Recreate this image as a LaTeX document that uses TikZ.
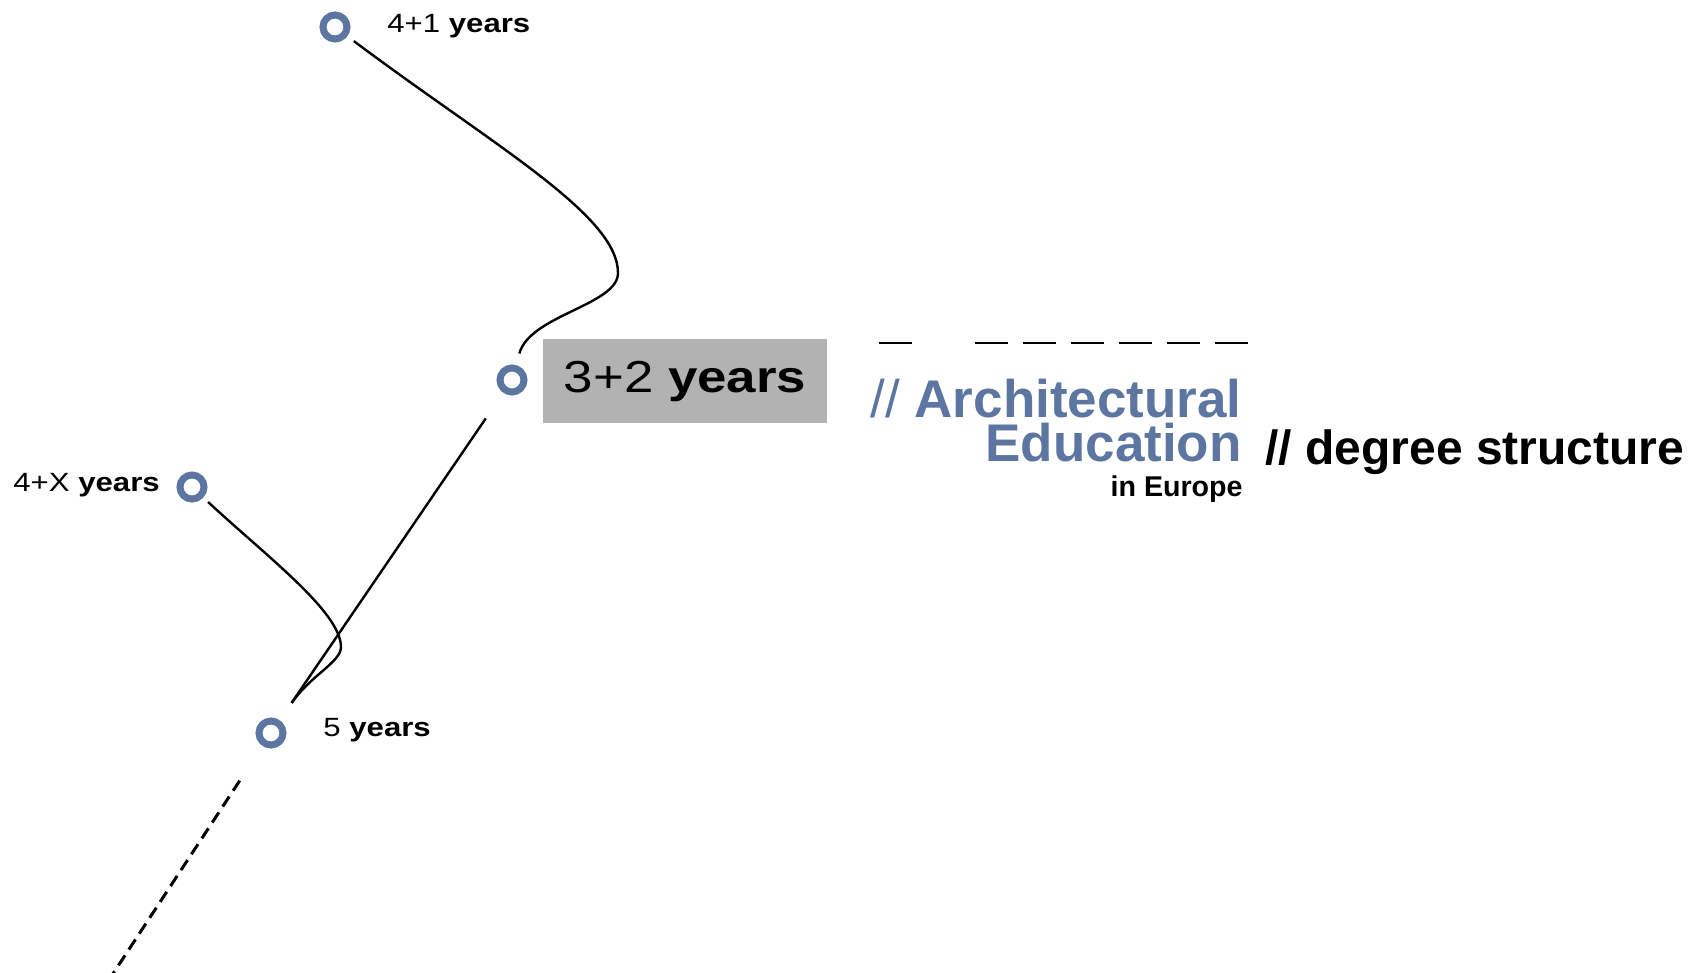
\documentclass[tikz,border=0pt]{standalone}
\usepackage{fontspec}
\setmainfont{Liberation Sans}
\newfontfamily\widesans[FakeStretch=1.18]{Liberation Sans}
\definecolor{ringblue}{RGB}{92,118,161}
\definecolor{boxgray}{RGB}{178,178,178}

\begin{document}
\begin{tikzpicture}[
  x=0.5pt, y=-0.5pt,
  ring/.style = {circle, draw=ringblue, fill=white, line width=3.5pt, minimum size=12pt, inner sep=0pt},
  years/.style = {inner sep=0pt, anchor=base west, font=\widesans\fontsize{13.2pt}{15pt}\selectfont},
  wire/.style = {line width=1.2pt},
  heading/.style = {inner sep=0pt, anchor=base east, text=ringblue, font=\fontsize{26.5pt}{28pt}\selectfont\bfseries}
]
  \useasboundingbox (0,0) rectangle (1705,973);

  \node[ring] (c41) at (335,27) {};
  \node[ring] (c32) at (512,380) {};
  \node[ring] (c4X) at (192,487) {};
  \node[ring] (c5) at (271,733) {};
  \coordinate (tail) at (99,995);

  \node[years] (l41) at (387,33) {4+1 \textbf{years}};
  \node[years] (l4X) at (13,492) {4+X \textbf{years}};
  \node[years] (l5) at (323,736) {5 \textbf{years}};
  \node[fill=boxgray, minimum width=142pt, minimum height=42pt, inner sep=0pt,
        text height=15pt, text depth=3pt,
        font=\widesans\fontsize{22.4pt}{24pt}\selectfont] (b32) at (685,381) {3+2 \textbf{years}};

  \draw[wire, shorten <=4pt, shorten >=6pt] (c41) .. controls (494,146) and (618,215) .. (618,273)
    .. controls (618,305) and (530,315) .. (c32);
  \draw[wire, shorten <=3.25pt, shorten >=10.5pt] (c4X) .. controls (265,555) and (341,612) .. (341,647)
    .. controls (341,662) and (311,675) .. (c5);
  \draw[wire, shorten <=15.5pt, shorten >=10.5pt] (c32) -- (c5);
  \draw[line width=1.5pt, dash pattern=on 6pt off 3.5pt, shorten <=20.75pt] (c5) -- (tail);

  \draw[line width=1pt] (879,343) -- (912,343);
  \draw[line width=1pt, dash pattern=on 16.5pt off 7.5pt] (975,343) -- (1248,343);

  \node[heading, text depth=0pt] (arch) at (1242,418) {{\mdseries //} Architectural};
  \node[heading] (edu) at (1242,462) {Education};
  \node[inner sep=0pt, anchor=base east, font=\fontsize{14.3pt}{16pt}\selectfont\bfseries] (eur) at (1243,497) {in Europe};
  \node[inner sep=0pt, anchor=base west, font=\fontsize{24pt}{28pt}\selectfont\bfseries] (deg) at (1265,465) {// degree structure};
\end{tikzpicture}
\end{document}
